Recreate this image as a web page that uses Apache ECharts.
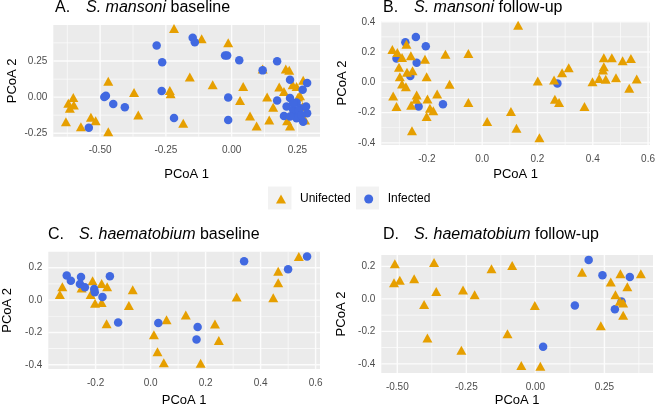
<!DOCTYPE html>
<html><head><meta charset="utf-8">
<script src="https://cdn.jsdelivr.net/npm/echarts@6/dist/echarts.min.js"></script>
<style>html,body{margin:0;padding:0;background:#fff}#c{width:658px;height:408px}</style>
</head><body><div id="c"></div><script>
// ---- data (PCoA 1, PCoA 2) ----
const aUnifected = [[-0.219,0.474],[-0.114,0.404],[-0.013,0.376],[0.118,0.195],[0.206,0.195],[0.219,0.185],[-0.159,0.139],[-0.469,0.109],[-0.072,0.086],[0.044,0.074],[0.181,0.070],[0.199,0.039],[0.232,0.086],[0.247,0.074],[0.272,0.116],[-0.371,0.032],[-0.235,0.046],[-0.232,0.023],[-0.602,-0.003],[-0.621,-0.042],[-0.600,-0.054],[-0.615,-0.077],[-0.355,-0.123],[-0.630,-0.170],[-0.535,-0.139],[-0.517,-0.163],[-0.573,-0.205],[-0.469,-0.240],[-0.184,-0.181],[0.032,-0.024],[0.135,0.0],[0.158,-0.070],[0.253,0.0],[0.260,0.009],[0.070,-0.130],[0.143,-0.158],[0.095,-0.200],[0.211,-0.163],[0.222,-0.200],[0.228,-0.123],[0.279,-0.158],[0.232,-0.100],[0.270,-0.065]];
const aInfected = [[-0.285,0.357],[-0.264,0.241],[-0.148,0.411],[-0.140,0.380],[-0.025,0.288],[-0.017,0.288],[0.029,0.255],[0.173,0.248],[0.118,0.185],[0.222,0.120],[0.287,0.097],[0.270,0.051],[-0.013,-0.003],[0.173,-0.024],[0.222,-0.007],[0.209,-0.065],[0.247,-0.038],[0.260,-0.077],[0.283,-0.065],[0.287,-0.111],[0.199,-0.130],[0.237,-0.118],[0.247,-0.146],[0.272,-0.170],[-0.013,-0.158],[-0.484,0.0],[-0.478,0.009],[-0.450,-0.047],[-0.406,-0.070],[-0.266,0.042],[-0.219,-0.144],[-0.543,-0.212],[0.234,-0.088],[0.222,-0.135],[0.255,-0.095],[0.265,-0.125],[0.234,-0.042]];

const bUnifected = [[-0.325,0.217],[-0.307,0.197],[-0.274,0.252],[-0.290,0.164],[-0.258,0.175],[-0.207,0.153],[-0.133,0.186],[-0.050,0.19],[-0.301,0.099],[-0.272,0.066],[-0.252,0.076],[-0.298,0.037],[-0.201,0.037],[-0.290,-0.011],[-0.276,-0.029],[-0.118,-0.013],[-0.322,-0.09],[-0.237,-0.084],[-0.239,-0.112],[-0.198,-0.11],[-0.163,-0.077],[-0.310,-0.16],[-0.257,-0.151],[-0.189,-0.171],[-0.177,-0.187],[-0.201,-0.226],[-0.050,-0.134],[-0.254,-0.32],[0.018,-0.259],[0.130,0.377],[0.104,-0.193],[0.124,-0.303],[0.207,-0.366],[0.201,0.009],[0.26,0.015],[0.289,0.063],[0.313,0.096],[0.263,-0.112],[0.278,-0.134],[0.370,-0.16],[0.399,0.004],[0.423,0.026],[0.44,0.162],[0.44,0.103],[0.437,0.081],[0.447,0.02],[0.469,0.162],[0.484,0.03],[0.508,0.142],[0.538,0.158],[0.532,-0.04],[0.559,0.022]];
const bInfected = [[-0.240,0.30],[-0.278,0.265],[-0.204,0.239],[-0.310,0.158],[-0.237,0.129],[-0.260,0.041],[-0.230,-0.16],[-0.142,-0.145],[0.272,-0.007]];

const cUnifected = [[-0.321,0.083],[-0.330,0.034],[-0.211,0.119],[-0.251,0.074],[-0.178,0.103],[-0.158,0.083],[-0.218,0.034],[-0.202,-0.019],[-0.178,-0.015],[-0.065,0.064],[-0.079,-0.034],[-0.160,-0.146],[0.058,-0.122],[0.012,-0.215],[0.025,-0.319],[0.048,-0.387],[0.128,-0.093],[0.234,-0.148],[0.248,-0.250],[0.182,-0.391],[0.313,0.019],[0.446,0.015],[0.464,0.107],[0.464,0.178],[0.539,0.269]];
const cInfected = [[-0.305,0.152],[-0.290,0.119],[-0.253,0.142],[-0.257,0.099],[-0.239,0.079],[-0.205,0.068],[-0.203,0.048],[-0.175,0.019],[-0.148,0.148],[-0.118,-0.138],[0.028,-0.142],[0.171,-0.166],[0.167,-0.244],[0.340,0.240],[0.500,0.191],[0.569,0.269]];

const dUnifected = [[-0.509,0.216],[-0.512,0.100],[-0.491,0.114],[-0.439,0.124],[-0.367,0.224],[-0.359,0.046],[-0.403,-0.034],[-0.391,-0.240],[-0.262,0.054],[-0.220,0.026],[-0.268,-0.316],[-0.159,0.186],[-0.084,0.206],[-0.101,-0.214],[-0.002,-0.040],[-0.051,-0.410],[0.018,-0.414],[0.169,0.164],[0.237,-0.166],[0.273,0.104],[0.290,0.026],[0.306,-0.014],[0.318,-0.026],[0.308,0.154],[0.333,0.074],[0.318,-0.100],[0.382,0.154]];
const dInfected = [[0.193,0.240],[0.243,0.146],[0.342,0.134],[0.143,-0.040],[0.288,-0.064],[0.312,-0.016],[0.028,-0.294]];

// ---- tick labels ----
const ticksQuarter = [-0.5,-0.25,0,0.25];
const ticksQuarterY = [-0.25,0,0.25];
const minorQuarterX = [-0.625,-0.375,-0.125,0.125,0.375];
const minorQuarterY = [-0.125,0.125,0.375];
const ticksTenth = [-0.4,-0.2,0,0.2,0.4,0.6];
const minorTenth = [-0.3,-0.1,0.1,0.3,0.5];

const panelTitles = [['A.','S. mansoni','baseline'],['B.','S. mansoni','follow-up'],['C.','S. haematobium','baseline'],['D.','S. haematobium','follow-up']];
const groupNames = ['Unifected','Infected'];

// ---- layout ----
const FONT = "'Liberation Sans', Arial, Helvetica, sans-serif";
const ORANGE = '#E69F00', BLUE = '#4169E1';
const PANEL_BG = '#EBEBEB', GRID_COLOR = '#FCFCFC';
const panels = [
  {grid:{left:53.3,top:25,width:266.7,height:111.7}, x:[-0.678,0.336], y:[-0.274,0.499], xt:ticksQuarter, xm:minorQuarterX, yt:ticksQuarterY, ym:minorQuarterY, xd:2, yd:2, xGap:31, yGap:34, tri:aUnifected, cir:aInfected, circTop:true, title:{left:55,top:0}},
  {grid:{left:381.3,top:21,width:274,height:124}, x:[-0.365,0.607], y:[-0.414,0.405], xt:ticksTenth, xm:minorTenth, yt:ticksTenth, ym:minorTenth, xd:1, yd:1, xGap:22.5, yGap:32, tri:bUnifected, cir:bInfected, circTop:false, title:{left:383,top:0}},
  {grid:{left:48.3,top:251.7,width:271.7,height:123.3}, x:[-0.372,0.616], y:[-0.426,0.299], xt:ticksTenth, xm:minorTenth, yt:ticksTenth, ym:minorTenth, xd:1, yd:1, xGap:25, yGap:34, tri:cUnifected, cir:cInfected, circTop:true, title:{left:48,top:227}},
  {grid:{left:381.3,top:255,width:271.7,height:121}, x:[-0.558,0.426], y:[-0.456,0.27], xt:ticksQuarter, xm:minorQuarterX, yt:ticksTenth, ym:minorTenth, xd:2, yd:1, xGap:21, yGap:33.5, tri:dUnifected, cir:dInfected, circTop:false, title:{left:383,top:227}}
];

const inRange = (arr, r) => arr.filter(v => v > r[0] + 1e-9 && v < r[1] - 1e-9);

const grids = [], xAxes = [], yAxes = [], series = [], titles = [];
panels.forEach((p, i) => {
  grids.push(Object.assign({show:false}, p.grid));
  const xt = inRange(p.xt, p.x), yt = inRange(p.yt, p.y);
  const xm = inRange(p.xm, p.x), ym = inRange(p.ym, p.y);
  const common = {
    axisLine:{show:false},
    splitLine:{show:false},
    nameTextStyle:{fontSize:13, color:'#000', fontFamily:FONT},
    nameLocation:'middle'
  };
  xAxes.push(Object.assign({}, common, {
    type:'value', gridIndex:i, min:p.x[0], max:p.x[1], name:'PCoA 1', nameGap:p.xGap,
    axisTick:{show:true, length:3, lineStyle:{color:'#333', width:1}, customValues:xt},
    axisLabel:{fontSize:10, color:'#4D4D4D', fontFamily:FONT, margin:9, customValues:xt, formatter:v => Number(v).toFixed(p.xd)}
  }));
  yAxes.push(Object.assign({}, common, {
    type:'value', gridIndex:i, min:p.y[0], max:p.y[1], name:'PCoA 2', nameGap:p.yGap,
    axisTick:{show:true, length:3, lineStyle:{color:'#333', width:1}, customValues:yt},
    axisLabel:{fontSize:10, color:'#4D4D4D', fontFamily:FONT, margin:6, customValues:yt, formatter:v => Number(v).toFixed(p.yd)}
  }));
  // panel background + grid lines (thin rectangles), positioned through the axes' scales
  series.push({
    type:'custom', xAxisIndex:i, yAxisIndex:i, z:1, silent:true, clip:false, animation:false,
    data:[[p.x[0], p.y[0]]],
    renderItem:function (params, api) {
      const tl = api.coord([p.x[0], p.y[1]]), br = api.coord([p.x[1], p.y[0]]);
      const kids = [{type:'rect', shape:{x:tl[0], y:tl[1], width:br[0]-tl[0], height:br[1]-tl[1]}, style:{fill:PANEL_BG}}];
      const vline = (v, w) => { const c = api.coord([v, p.y[0]]);
        kids.push({type:'rect', shape:{x:c[0] - w / 2, y:tl[1], width:w, height:br[1]-tl[1]}, style:{fill:GRID_COLOR, stroke:null}}); };
      const hline = (v, w) => { const c = api.coord([p.x[0], v]);
        kids.push({type:'rect', shape:{x:tl[0], y:c[1] - w / 2, width:br[0]-tl[0], height:w}, style:{fill:GRID_COLOR, stroke:null}}); };
      xm.forEach(v => vline(v, 0.7)); ym.forEach(v => hline(v, 0.7));
      xt.forEach(v => vline(v, 1.4)); yt.forEach(v => hline(v, 1.4));
      return {type:'group', children:kids};
    }
  });
  const tri = {type:'scatter', name:groupNames[0], xAxisIndex:i, yAxisIndex:i, data:p.tri, symbol:'triangle', symbolSize:[10,9], itemStyle:{color:ORANGE, opacity:1}, z:3};
  const cir = {type:'scatter', name:groupNames[1], xAxisIndex:i, yAxisIndex:i, data:p.cir, symbol:'circle', symbolSize:8.5, itemStyle:{color:BLUE, opacity:1}, z:3};
  if (p.circTop) { series.push(tri, cir); } else { series.push(cir, tri); }
  const t = panelTitles[i];
  titles.push({
    left:p.title.left, top:p.title.top, padding:0,
    text:'{a|' + t[0] + '}{i|' + t[1] + '} ' + t[2],
    textStyle:{fontSize:16, fontWeight:'normal', color:'#000', fontFamily:FONT,
      rich:{a:{width:31, fontSize:16, fontFamily:FONT, color:'#000'}, i:{fontStyle:'italic', fontSize:16, fontFamily:FONT, color:'#000'}}}
  });
});

const chart = echarts.init(document.getElementById('c'), null, {renderer:'canvas'});
chart.setOption({
  animation:false,
  backgroundColor:'#FFFFFF',
  title:titles,
  grid:grids, xAxis:xAxes, yAxis:yAxes, series:series,
  legend:{left:271, top:188, itemWidth:10, itemHeight:9, itemGap:13.5, selectedMode:false, z:5,
    textStyle:{fontSize:12, color:'#000', fontFamily:FONT, padding:[0,0,0,9]},
    data:[{name:groupNames[0], icon:'triangle'}, {name:groupNames[1], icon:'circle'}]},
  graphic:[
    {type:'rect', z:0, shape:{x:268, y:186.5, width:23.5, height:23}, style:{fill:'#F2F2F2'}, silent:true},
    {type:'rect', z:0, shape:{x:356, y:186.5, width:23, height:23}, style:{fill:'#F2F2F2'}, silent:true}
  ]
});
</script></body></html>
